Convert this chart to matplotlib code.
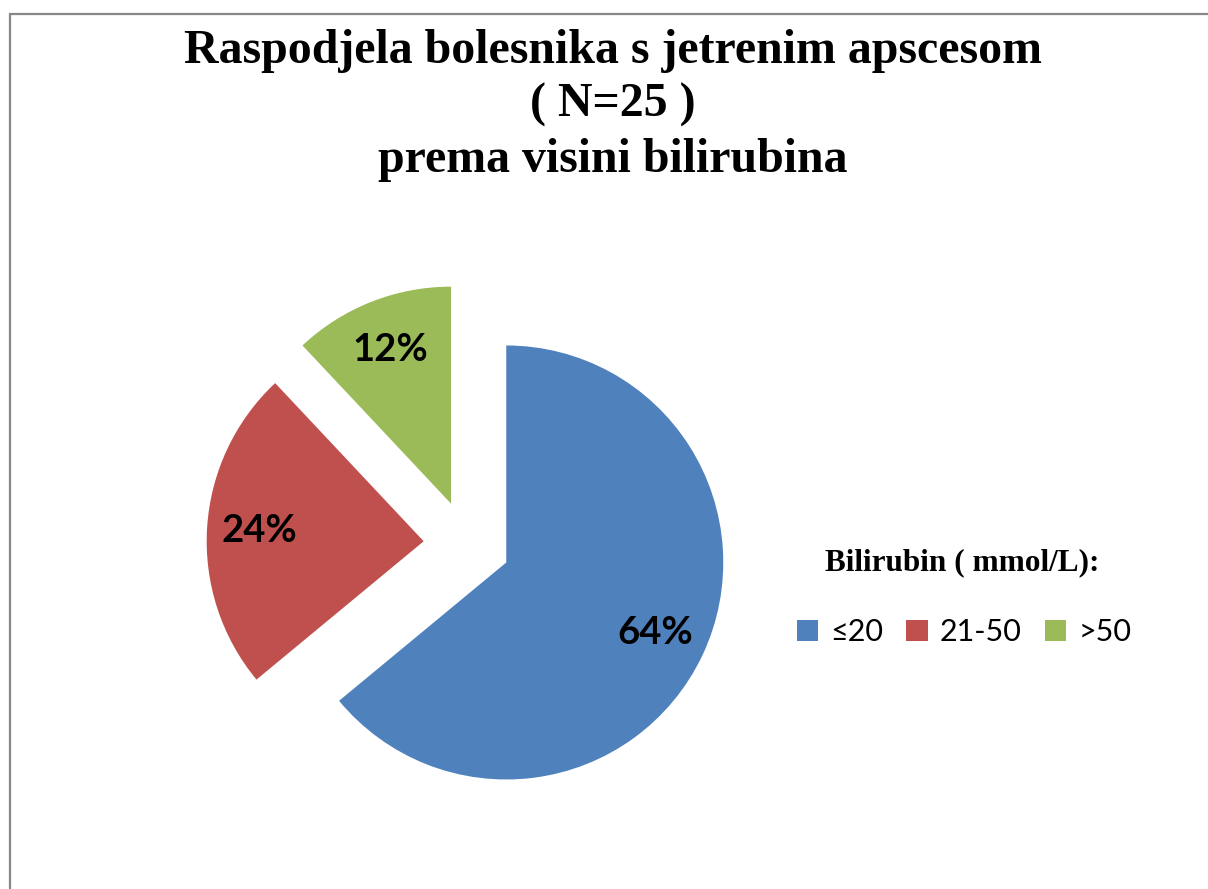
import matplotlib
matplotlib.use("Agg")
import matplotlib.pyplot as plt
from matplotlib.patches import Rectangle, Patch

# Data
categories = ['≤20', '21-50', '>50']
counts = [16, 6, 3]          # N = 25 -> 64%, 24%, 12%
colors = ['#4F81BD', '#C0504D', '#9BBB59']
title_lines = ['Raspodjela bolesnika s jetrenim apscesom', '( N=25 )', 'prema visini bilirubina']
legend_title = 'Bilirubin ( mmol/L):'

W, H = 1208, 889
fig = plt.figure(figsize=(W / 100, H / 100), dpi=100)
fig.patch.set_facecolor('white')

# outer frame
fig.patches.append(Rectangle((10 / W, -0.1), 1.2, 1 - 13.5 / H + 0.1, transform=fig.transFigure,
                             fill=False, edgecolor='#888888', linewidth=1.6))

ax = fig.add_axes([0, 0, 1, 1])
R = 217.0
cx, cy = 467.0, 544.0
wedges, texts, autotexts = ax.pie(
    counts, colors=colors, startangle=90, counterclock=False,
    explode=[0.2, 0.2, 0.2], radius=1, autopct='%1.0f%%', pctdistance=0.76,
    textprops=dict(family=['Lato', 'DejaVu Sans'], fontweight='bold', fontsize=27.5, color='black'),
    wedgeprops=dict(linewidth=0))
ax.set_aspect('auto')
ax.set_xlim((0 - cx) / R, (W - cx) / R)
ax.set_ylim((cy - H) / R, cy / R)
ax.axis('off')

# Title
baselines = [63, 117, 172]
for line, yb in zip(title_lines, baselines):
    fig.text(613 / W, 1 - yb / H, line, ha='center', va='baseline',
             family='Liberation Serif', fontweight='bold', fontsize=34.5)

# Legend title
fig.text(962 / W, 1 - 570 / H, legend_title, ha='center', va='baseline',
         family='Liberation Serif', fontweight='bold', fontsize=22.5)

handles = [Patch(facecolor=c, edgecolor='none') for c in colors]
leg = fig.legend(handles, categories, loc='center', bbox_to_anchor=(964 / W, 1 - 632 / H),
                 ncol=3, frameon=False, prop=dict(family=['Lato', 'DejaVu Sans'], size=22),
                 handlelength=0.7, handleheight=0.7, handletextpad=0.4, columnspacing=0.75,
                 borderpad=0, borderaxespad=0)

fig.savefig('out.png', dpi=100, facecolor='white')
